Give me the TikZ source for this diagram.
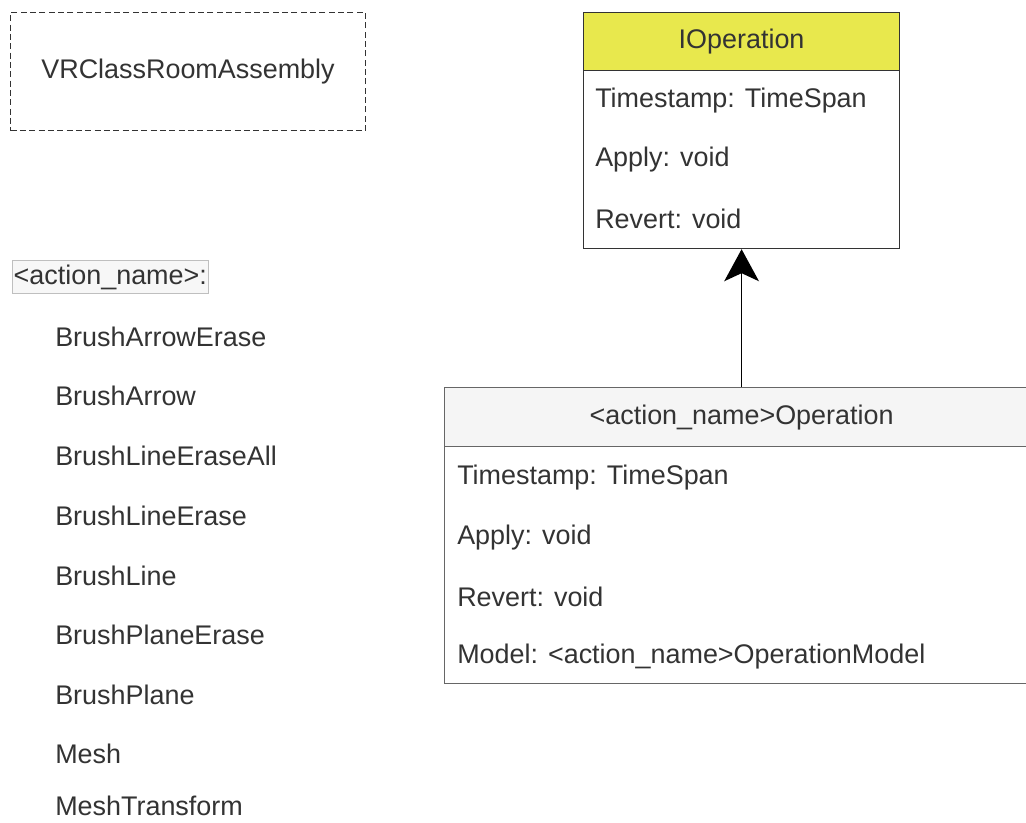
\documentclass[tikz,border=0pt]{standalone}
\usepackage{fontspec}
\setmainfont{Liberation Sans}
\usetikzlibrary{arrows.meta}
\definecolor{txt}{HTML}{333333}
\definecolor{yel}{HTML}{E8E84D}
\definecolor{hdr}{HTML}{F5F5F5}
\definecolor{bord}{HTML}{666666}
\begin{document}
\begin{tikzpicture}[x=0.75pt,y=-0.75pt,
  every node/.style={font=\fontsize{20.2}{24}\selectfont, text=txt, inner sep=0pt},
  item/.style={anchor=west},
  dashbox/.style={draw=txt, line width=0.8pt, dash pattern=on 4.5pt off 2.5pt, anchor=north west},
  classhead/.style={draw=#1, line width=0.9pt, anchor=north west},
  classbody/.style={draw=#1, line width=0.9pt, fill=white, anchor=north west},
  inherit/.style={-{Stealth[length=24pt,width=26pt,inset=6pt]}, line width=1.1pt, draw=black}
]
\clip (0,0) rectangle (1026,823);
\fill[white] (0,0) rectangle (1026,823);

% assembly box
\node[dashbox, minimum width=355*0.75pt, minimum height=118*0.75pt] (asm) at (10,12) {};
\node (asmtxt) at (asm.center) {VRClassRoomAssembly};

% IOperation class
\node[classhead=txt, fill=yel, minimum width=316*0.75pt, minimum height=58*0.75pt] (ihead) at (583,12) {};
\node (ititle) at (ihead.center) {IOperation};
\node[classbody=txt, minimum width=316*0.75pt, minimum height=178*0.75pt] (ibody) at (583,70) {};
\node[item] (i1) at (595,101) {Timestamp: TimeSpan};
\node[item] (i2) at (595,160) {Apply: void};
\node[item] (i3) at (595,219) {Revert: void};

% Operation class
\node[classhead=bord, fill=hdr, minimum width=594*0.75pt, minimum height=59*0.75pt] (ohead) at (444,387) {};
\node (otitle) at (ohead.center) {<action\_name>Operation};
\node[classbody=bord, minimum width=594*0.75pt, minimum height=237*0.75pt] (obody) at (444,446) {};
\node[item] (o1) at (457,478) {Timestamp: TimeSpan};
\node[item] (o2) at (457,538) {Apply: void};
\node[item] (o3) at (457,597) {Revert: void};
\node[item] (o4) at (457,657) {Model: <action\_name>OperationModel};

% inheritance arrow
\draw[inherit] (ohead.north) -- (ohead.north |- ibody.south);

% action name list
\node[draw=black!25, fill=black!3, line width=0.6pt, anchor=west, inner xsep=1pt, inner ysep=3pt, minimum height=31*0.75pt] (act) at (12,277) {<action\_name>:};
\node[item] (a1) at (55,337) {BrushArrowErase};
\node[item] (a2) at (55,396) {BrushArrow};
\node[item] (a3) at (55,456) {BrushLineEraseAll};
\node[item] (a4) at (55,516) {BrushLineErase};
\node[item] (a5) at (55,576) {BrushLine};
\node[item] (a6) at (55,635) {BrushPlaneErase};
\node[item] (a7) at (55,695) {BrushPlane};
\node[item] (a8) at (55,754) {Mesh};
\node[item] (a9) at (55,806) {MeshTransform};
\end{tikzpicture}
\end{document}
